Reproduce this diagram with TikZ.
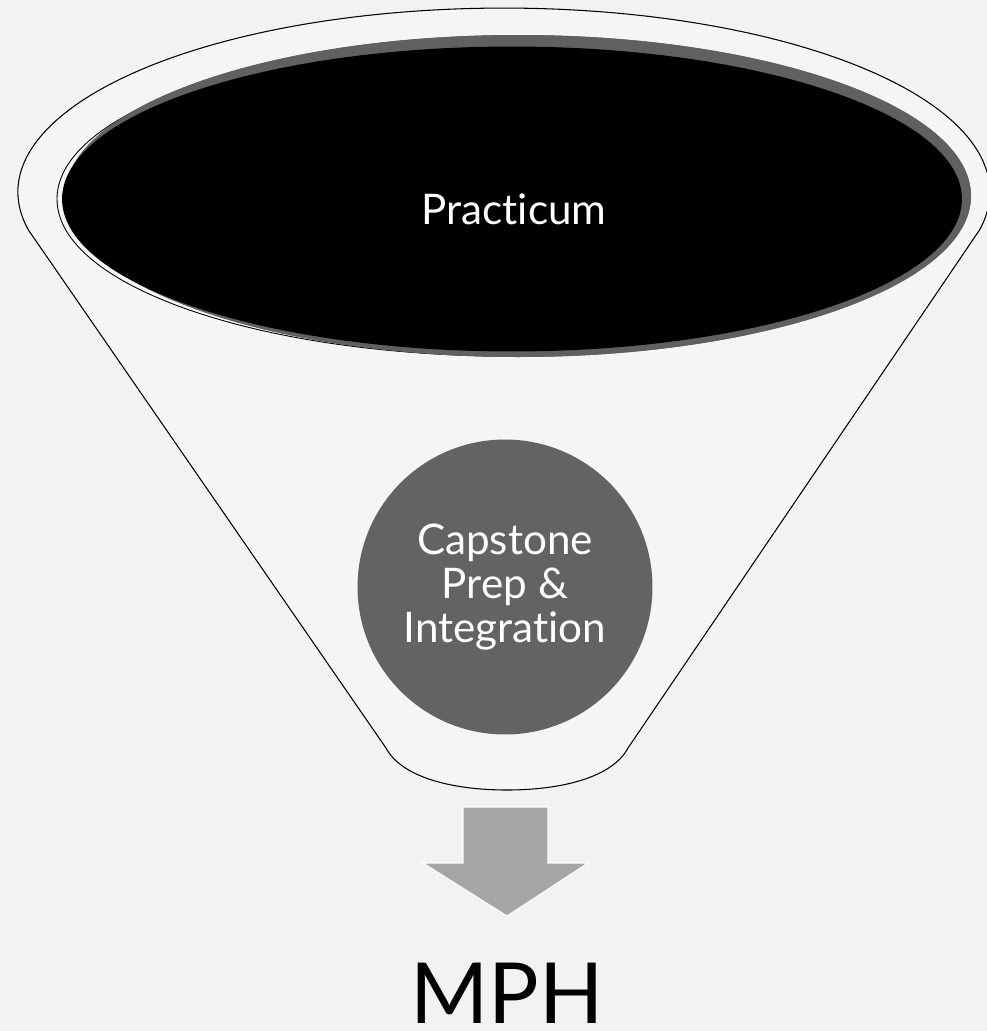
\documentclass[tikz,border=0pt]{standalone}
\usepackage{fontspec}
\setmainfont{Lato}[Ligatures=NoCommon]
\usetikzlibrary{shapes.geometric}
\definecolor{bggray}{HTML}{F2F2F2}
\definecolor{funnelfill}{HTML}{F5F5F5}
\definecolor{rimgray}{HTML}{606060}
\definecolor{ballgray}{HTML}{636363}
\definecolor{arrowgray}{HTML}{A6A6A6}
\tikzset{
  stage/.style={text=white, align=center, inner sep=0pt,
    font=\fontsize{24}{25}\selectfont},
  funnelline/.style={draw=black, line width=0.6pt, fill=funnelfill}
}
\begin{document}
\begin{tikzpicture}[x=0.02cm, y=-0.02cm]
  \fill[bggray] (0,0) rectangle (987,1031);
  \useasboundingbox (0,0) rectangle (987,1031);
  \draw[funnelline] (28.4,230) arc[start angle=168.1, end angle=371.9, x radius=486, y radius=184]
    -- (628,748) .. controls (612,778) and (560,790) .. (507,790)
    .. controls (454,790) and (402,778) .. (386,748) -- cycle;
  \fill[rimgray] (518,196) ellipse[x radius=453, y radius=161];
  \draw[line width=0.5pt] (509,199) ellipse[x radius=452, y radius=157];
  \fill[rimgray] (518,196) ellipse[x radius=453, y radius=161];
  \node[stage, ellipse, fill=black, minimum width=18cm, minimum height=6.1cm] (practicum) at (512,199) {};
  \node[stage] (practicumtext) at (514,209) {Practicum};
  \node[stage, circle, fill=ballgray, minimum size=5.9cm] (capstone) at (505,587) {Capstone\\Prep \&\\Integration};
  \fill[arrowgray, draw=white, line width=0.6pt] (463,807) -- (548,807) -- (548,863) -- (588,863)
    -- (507,916) -- (423,863) -- (463,863) -- cycle;
  \node[font=\fontsize{48}{56}\selectfont, inner sep=0pt, anchor=base] (mph) at (507,1023) {MPH};
\end{tikzpicture}
\end{document}
